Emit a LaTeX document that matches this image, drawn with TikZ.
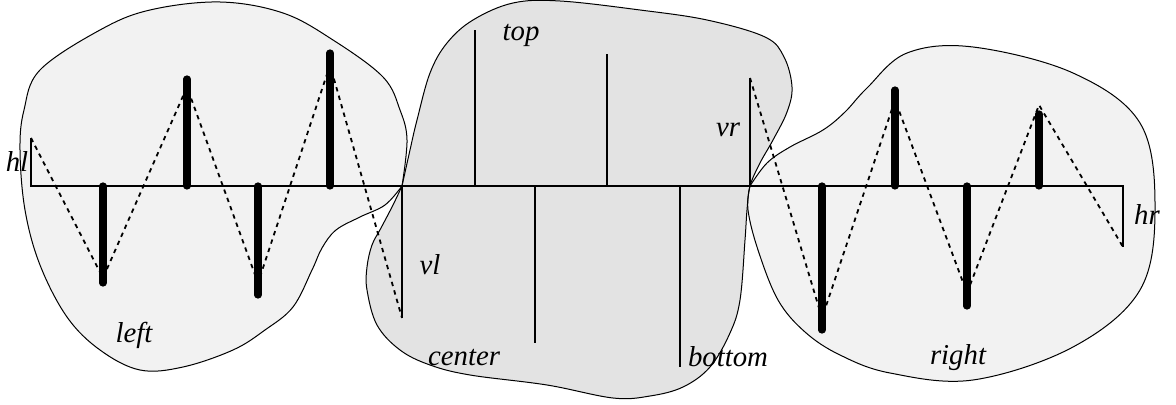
\documentclass[tikz,border=0pt]{standalone}
\usepackage{fontspec}
\setmainfont{Liberation Serif}

\tikzset{
  area/.style={draw=black, line width=0.5pt},
  tick/.style={line width=1pt},
  bar/.style={line width=3.6pt, line cap=round},
  zig/.style={line width=0.9pt, dash pattern=on 2.2pt off 2.2pt},
  lab/.style={font=\fontsize{14.4}{17}\selectfont\itshape, inner sep=0pt}
}

\begin{document}
\begin{tikzpicture}[x=0.5pt,y=-0.5pt]
        \useasboundingbox (0,0) rectangle (1176,405);

        % body sevření
        \coordinate (PL) at (402,186);
        \coordinate (PR) at (750,186);

        % oblasti
        \def\leftblob{(PL) (407,140) (400,110) (383,77) (333,40) (283,13) (220,2) (150,10) (100,30) (40,70) (24,110) (20,150) (25,210) (40,265) (67,317) (100,350) (140,370) (183,367) (233,350) (265,330) (293,307) (312,270) (322,248) (336,230) (360,217) (385,205) (PL)}
        \def\centerblob{(PL) (410,150) (417,120) (430,73) (447,43) (473,20) (513,3) (560,1) (640,10) (707,20) (765,37) (784,57) (792,87) (787,112) (773,140) (760,163) (PR) (747,210) (745,240) (740,300) (730,333) (710,367) (683,387) (650,396) (613,398) (547,385) (470,375) (430,365) (400,350) (377,325) (367,290) (367,267) (372,245) (381,228) (393,205) (PL)}
        \def\rightblob{(PR) (767,163) (790,147) (823,130) (845,112) (867,88) (907,53) (973,47) (1073,73) (1140,123) (1155,207) (1140,290) (1073,347) (973,380) (890,373) (840,355) (805,332) (778,300) (758,250) (748,210) (PR)}
        \fill[black!5] plot[smooth, tension=0.6] coordinates \leftblob;
        \fill[black!11] plot[smooth, tension=0.6] coordinates \centerblob;
        \fill[black!5] plot[smooth, tension=0.6] coordinates \rightblob;
        \draw[area] plot[smooth, tension=0.6] coordinates \leftblob;
        \draw[area] plot[smooth, tension=0.6] coordinates \centerblob;
        \draw[area] plot[smooth, tension=0.6] coordinates \rightblob;

        % osa
        \coordinate (A) at (31,186);
        \coordinate (B) at (1123,186);
        \coordinate (HL) at (31,138);
        \coordinate (HR) at (1123,247);
        \coordinate (VL) at (402,318);
        \coordinate (VR) at (750,78);
        \draw[tick] (HL) -- (A) -- (B) -- (HR);
        \draw[tick] (PL) -- (VL);
        \draw[tick] (PR) -- (VR);

        % tenké čáry uprostřed
        \foreach \x/\y in {475/30, 535/343, 607/54, 680/367}
            \draw[tick] (\x,186) -- (\x,\y);

        % silné čáry
        \foreach \x/\y in {103/283, 187/79, 258/295, 330/53, 822/330, 895/90, 967/306, 1039/114}
            \draw[bar] (\x,186) -- (\x,\y);

        % lomené čáry
        \draw[zig] (HL) -- (103,278) -- (187,87) -- (258,283) -- (330,65) -- (VL);
        \draw[zig] (VR) -- (822,318) -- (895,100) -- (967,293) -- (1039,105) -- (HR);

        % popisky
        \node[lab] (hl) at (17,162) {hl};
        \node[lab] (vl) at (430,265) {vl};
        \node[lab] (top) at (521,35) {top};
        \node[lab] (vr) at (728,130) {vr};
        \node[lab] (center) at (464,358) {center};
        \node[lab] (bottom) at (728,357) {bottom};
        \node[lab] (left) at (134,335) {left};
        \node[lab] (right) at (958,358) {right};
        \node[lab] (hr) at (1147,215) {hr};

    \end{tikzpicture}
\end{document}
